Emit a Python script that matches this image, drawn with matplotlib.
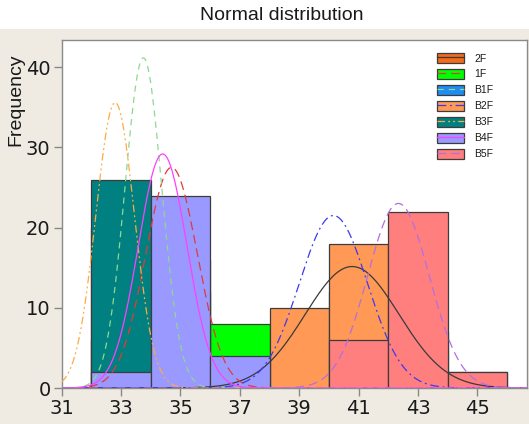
import numpy as np
import matplotlib
matplotlib.use('Agg')
from matplotlib import pyplot as plt
from matplotlib.patches import Patch, Rectangle
from matplotlib.lines import Line2D
from matplotlib.legend_handler import HandlerTuple

# 数据
labels = ['2F', '1F', 'B1F', 'B2F', 'B3F', 'B4F', 'B5F']
bin_edges = [32, 34, 36, 38, 40, 42, 44, 46]
counts_2F = [0, 0, 2, 7, 12, 7, 2]
counts_1F = [6, 16, 8, 0, 0, 0, 0]
counts_B1F = [20, 12, 0, 0, 0, 0, 0]
counts_B2F = [0, 0, 1, 10, 18, 2, 0]
counts_B3F = [26, 3, 0, 0, 0, 0, 0]
counts_B4F = [2, 24, 4, 0, 0, 0, 0]
counts_B5F = [0, 0, 0, 0, 6, 22, 2]
# 正态曲线参数（均值、标准差）
fit_mean = [40.78, 34.7, 33.75, 40.15, 32.8, 34.4, 42.34]
fit_sd = [1.58, 0.87, 0.62, 1.15, 0.65, 0.82, 1.04]

all_counts = [counts_2F, counts_1F, counts_B1F, counts_B2F, counts_B3F, counts_B4F, counts_B5F]

bar_colors = ['#F26A1B', '#00FF00', '#1E8CF0', '#FF9955', '#008080', '#9999FF', '#FF7F7F']
line_colors = ['#3A3A3A', '#E03A3A', '#8FD88F', '#3A3AF0', '#FFAA40', '#FF40FF', '#B070E0']
line_styles = ['-', (0, (7, 4)), (0, (5, 4)), (0, (7, 3, 1.5, 3)), (0, (6, 2.5, 1.5, 2.5, 1.5, 2.5)), '-', (0, (7, 4))]

plt.rcParams['font.family'] = ['Liberation Sans', 'DejaVu Sans']

fig = plt.figure(figsize=(5.29, 4.24), dpi=100, facecolor='#EFEBE2')
# 顶部白色标题条
fig.patches.append(Rectangle((0, 1 - 29 / 424), 1, 29 / 424, transform=fig.transFigure,
                             facecolor='white', edgecolor='none', zorder=0))
ax = fig.add_axes([61.7 / 529, 1 - 388 / 424, (527 - 61.7) / 529, (388 - 40) / 424])
ax.set_facecolor('white')

widths = np.diff(bin_edges)
lefts = np.array(bin_edges[:-1])
for i, cnt in enumerate(all_counts):
    cnt = np.array(cnt)
    keep = cnt > 0
    ax.bar(lefts[keep], cnt[keep], width=widths[keep], align='edge',
           color=bar_colors[i], edgecolor='#3C3C3C', linewidth=0.9, zorder=2 + i * 0.01)

xs = np.linspace(31, 46.7, 400)
for i, cnt in enumerate(all_counts):
    n = sum(cnt)
    m, s = fit_mean[i], fit_sd[i]
    ys = n * 2 / (s * np.sqrt(2 * np.pi)) * np.exp(-(xs - m) ** 2 / (2 * s ** 2))
    ax.plot(xs, ys, color=line_colors[i], linestyle=line_styles[i], linewidth=0.9, zorder=3)

ax.set_xlim(31, 46.67)
ax.set_ylim(0, 43.4)
ax.set_xticks([31, 33, 35, 37, 39, 41, 43, 45])
ax.set_yticks([0, 10, 20, 30, 40])
for sp in ax.spines.values():
    sp.set_color('#8A8A8A')
    sp.set_linewidth(1.0)
ax.tick_params(colors='#8A8A8A', labelcolor='#1A1A1A', length=6, width=1.0, pad=2)
for lab in ax.get_xticklabels() + ax.get_yticklabels():
    lab.set_family(['Liberation Sans Narrow', 'DejaVu Sans'])
    lab.set_fontsize(14)

fig.text(16 / 529, 1 - 100 / 424, 'Frequency', rotation=90, ha='center', va='center',
         fontsize=14, color='#1A1A1A')
fig.text(281.5 / 529, 1 - 20 / 424, 'Normal distribution', ha='center', va='baseline',
         fontsize=14, color='#1A1A1A')

handles = []
for i in range(len(labels)):
    handles.append((Patch(facecolor=bar_colors[i], edgecolor='#3C3C3C', linewidth=0.9),
                    Line2D([], [], color=line_colors[i], linestyle=line_styles[i], linewidth=0.9)))
leg = ax.legend(handles, labels, handler_map={tuple: HandlerTuple(ndivide=1)},
                loc='upper left', bbox_to_anchor=(437 / 529, 1 - 53 / 424),
                bbox_transform=fig.transFigure, frameon=False, fontsize=7.5,
                handlelength=2.55, handleheight=1.1, labelspacing=0.52,
                handletextpad=1.0, borderpad=0, borderaxespad=0)
for t in leg.get_texts():
    t.set_color('#1A1A1A')

fig.savefig('out.png', dpi=100, facecolor=fig.get_facecolor())
